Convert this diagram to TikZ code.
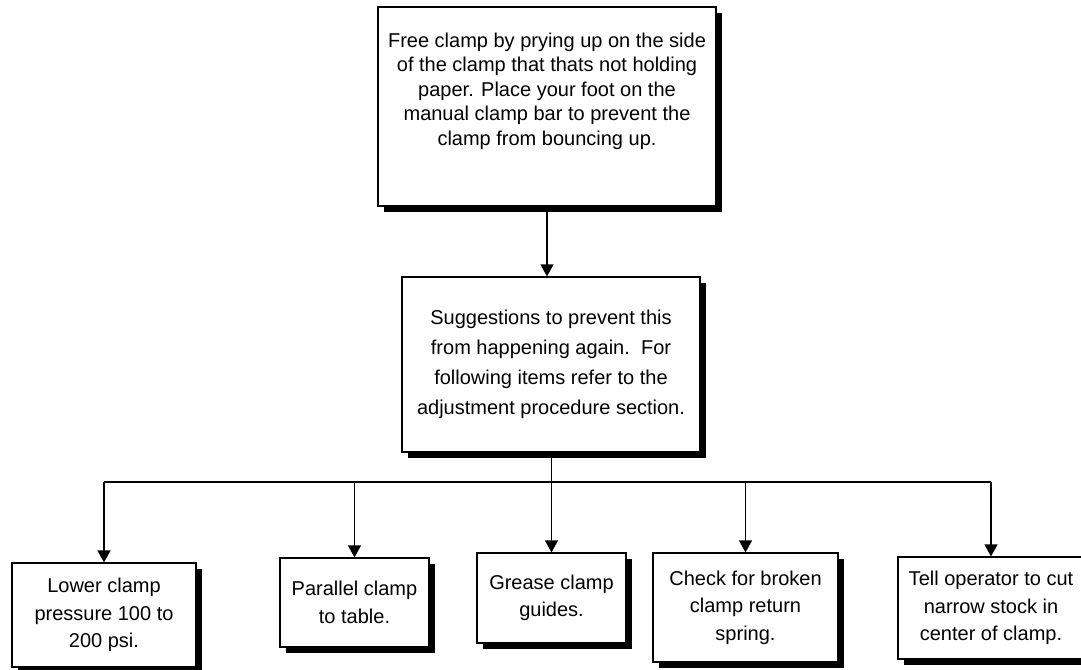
\documentclass[tikz,border=0pt]{standalone}
\usepackage{fontspec}
\setmainfont{Liberation Sans}
\usetikzlibrary{shadows,arrows.meta}
\begin{document}
\begin{tikzpicture}[x=1pt,y=-1pt,
  box/.style={draw=black, line width=1.2pt, fill=white, rectangle, inner sep=0pt,
    align=center, font=\fontsize{20}{27.5}\selectfont,
    drop shadow={shadow xshift=5.5pt, shadow yshift=-6pt, fill=black, opacity=1}},
  txt/.style={inner sep=0pt, align=center},
  link/.style={line width=1.2pt},
  arr/.style={link, -{Triangle[width=13pt,length=12pt]}}
]
\useasboundingbox (0,0) rectangle (1081,669);
\clip (0,0) rectangle (1081,669);

% upper steps
\node[box, minimum width=338pt, minimum height=199pt] (free) at (547,106.5) {};
\node[txt, font=\fontsize{20}{24.5}\selectfont] (freetext) at (547,91)
  {Free clamp by prying up on the side\\
   of the clamp that thats not holding\\
   paper. Place your foot on the\\
   manual clamp bar to prevent the\\
   clamp from bouncing up.};

\node[box, minimum width=298pt, minimum height=175pt,
      font=\fontsize{20}{30}\selectfont] (suggest) at (551,364.5)
  {Suggestions to prevent this\\
   from happening again.\ \ For\\
   following items refer to the\\
   adjustment procedure section.};

% suggestions
\node[box, minimum width=184pt, minimum height=104pt] (lower) at (104,615)
  {Lower clamp\\ pressure 100 to\\ 200 psi.};
\node[box, minimum width=149pt, minimum height=89pt] (parallel) at (354.5,602.5)
  {Parallel clamp\\ to table.};
\node[box, minimum width=149pt, minimum height=90pt] (grease) at (551.5,598)
  {Grease clamp\\ guides.};
\node[box, minimum width=185pt, minimum height=109pt] (check) at (745.5,607.5)
  {Check for broken\\ clamp return\\ spring.};
\node[box, minimum width=186pt, minimum height=102pt] (tell) at (991,608)
  {Tell operator to cut\\ narrow stock in\\ center of clamp.};

% connectors
\coordinate (bus) at (0,482);
\draw[arr] (free.south) -- (free.south |- suggest.north);
\draw[arr] (suggest.south -| grease.north) -- (grease.north);
\draw[link] (lower.north |- bus) -- (tell.north |- bus);
\draw[arr] (lower.north |- bus) -- (lower.north);
\draw[arr] (parallel.north |- bus) -- (parallel.north);
\draw[arr] (check.north |- bus) -- (check.north);
\draw[arr] (tell.north |- bus) -- (tell.north);
\end{tikzpicture}
\end{document}
